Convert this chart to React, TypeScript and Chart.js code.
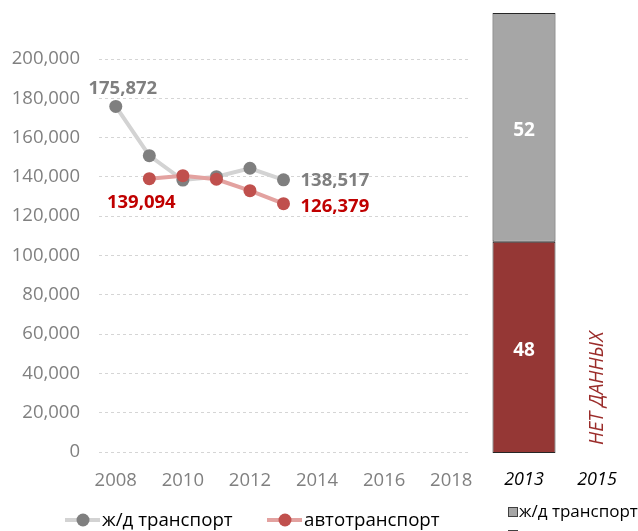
import React, { useEffect, useRef } from "react";
import { Chart, registerables } from "chart.js";
Chart.register(...registerables);

const FONT = "'Open Sans', 'Noto Sans', 'DejaVu Sans', sans-serif";

// ---- data: line chart ----
const lineYears = [2008, 2009, 2010, 2011, 2012, 2013];
const railFreight = [175872, 150800, 138400, 140100, 144400, 138517];
const roadFreight = [null, 139094, 140600, 138800, 133000, 126379];
const xTickYears = [2008, 2010, 2012, 2014, 2016, 2018];
const yTickValues = [0, 20000, 40000, 60000, 80000, 100000, 120000, 140000, 160000, 180000, 200000];
const seriesNames = ["ж/д транспорт", "автотранспорт"];

// ---- data: share bar chart ----
const shareYears = ["2013", "2015"];
const railShare = [52, null];
const roadShare = [48, null];
const noDataLabel = "НЕТ ДАННЫХ";

// label placements (which points carry a value label)
const pointLabels = [
  { ds: 0, idx: 0, align: "center", dx: 7, dy: -18 },
  { ds: 0, idx: 5, align: "left", dx: 17, dy: 1 },
  { ds: 1, idx: 1, align: "center", dx: -8, dy: 24 },
  { ds: 1, idx: 5, align: "left", dx: 17, dy: 3 },
];

const RAIL_MARK = "#7f7f7f";
const RAIL_LINE = "#d3d3d3";
const ROAD_MARK = "#c0504d";
const ROAD_LINE = "#e3a2a0";
const RAIL_LABEL = "#7f7f7f";
const ROAD_LABEL = "#c00000";
const BAR_GRAY = "#a6a6a6";
const BAR_RED = "#953735";

const fmt = (v: number) => v.toLocaleString("en-US");

function LineChart() {
  const ref = useRef<HTMLCanvasElement>(null);
  useEffect(() => {
    const labelPlugin = {
      id: "pointLabels",
      afterDatasetsDraw(chart: any) {
        const ctx = chart.ctx;
        ctx.save();
        ctx.font = `bold 18.5px ${FONT}`;
        ctx.textBaseline = "middle";
        for (const p of pointLabels) {
          const meta = chart.getDatasetMeta(p.ds);
          const el = meta.data[p.idx];
          const pt = chart.data.datasets[p.ds].data[p.idx];
          if (!el || !pt || pt.y === null) continue;
          ctx.fillStyle = p.ds === 0 ? RAIL_LABEL : ROAD_LABEL;
          ctx.textAlign = p.align;
          ctx.fillText(fmt(pt.y), el.x + p.dx, el.y + p.dy);
        }
        ctx.restore();
      },
    };
    const legendPlugin = {
      id: "lineLegend",
      afterDraw(chart: any) {
        const ctx = chart.ctx;
        ctx.save();
        ctx.font = `18.7px ${FONT}`;
        ctx.textBaseline = "middle";
        ctx.textAlign = "left";
        const y = 520;
        const items = [
          { x: 65, line: RAIL_LINE, mark: RAIL_MARK, text: seriesNames[0] },
          { x: 267, line: ROAD_LINE, mark: ROAD_MARK, text: seriesNames[1] },
        ];
        for (const it of items) {
          ctx.strokeStyle = it.line;
          ctx.lineWidth = 4;
          ctx.beginPath();
          ctx.moveTo(it.x, y);
          ctx.lineTo(it.x + 35, y);
          ctx.stroke();
          ctx.fillStyle = it.mark;
          ctx.beginPath();
          ctx.arc(it.x + 18, y, 6.5, 0, Math.PI * 2);
          ctx.fill();
          ctx.fillStyle = "#000";
          ctx.fillText(it.text, it.x + 37, y + 1);
        }
        ctx.restore();
      },
    };
    const chart = new Chart(ref.current!, {
      type: "line",
      data: {
        datasets: [
          {
            label: seriesNames[0],
            data: lineYears.map((x, i) => ({ x, y: railFreight[i] })),
            borderColor: RAIL_LINE,
            borderWidth: 4,
            pointRadius: 6.5,
            pointBackgroundColor: RAIL_MARK,
            pointBorderWidth: 0,
            tension: 0,
            order: 2,
          },
          {
            label: seriesNames[1],
            data: lineYears.map((x, i) => ({ x, y: roadFreight[i] })),
            borderColor: ROAD_LINE,
            borderWidth: 4,
            pointRadius: 6.5,
            pointBackgroundColor: ROAD_MARK,
            pointBorderWidth: 0,
            tension: 0,
            order: 1,
          },
        ],
      } as any,
      options: {
        responsive: false,
        animation: false,
        layout: { padding: { left: 0, top: 59, right: 12, bottom: 0 } },
        plugins: { legend: { display: false }, tooltip: { enabled: false } },
        scales: {
          x: {
            type: "linear",
            min: 2007.5,
            max: 2018.5,
            afterBuildTicks: (s: any) => {
              s.ticks = xTickYears.map((v) => ({ value: v }));
            },
            afterFit: (s: any) => {
              s.height = 79;
              s.paddingLeft = 0;
              s.paddingRight = 0;
            },
            grid: { display: false, drawTicks: false },
            border: { display: false },
            ticks: {
              color: "#808080",
              font: { family: FONT, size: 18.5 },
              padding: 18,
              maxRotation: 0,
              callback: (v: any) => String(v),
            },
          },
          y: {
            min: 0,
            max: 200000,
            afterBuildTicks: (s: any) => {
              s.ticks = yTickValues.map((v) => ({ value: v }));
            },
            afterFit: (s: any) => {
              s.width = 99;
            },
            grid: { color: "#d5d5d5", drawTicks: false, lineWidth: 1 },
            border: { display: false, dash: [3, 3] },
            ticks: {
              color: "#808080",
              font: { family: FONT, size: 18.5 },
              padding: 19,
              callback: (v: any) => fmt(Number(v)),
            },
          },
        },
      } as any,
      plugins: [labelPlugin, legendPlugin],
    });
    return () => chart.destroy();
  }, []);
  return (
    <canvas
      ref={ref}
      width={480}
      height={531}
      style={{ position: "absolute", left: 0, top: 0, width: 480, height: 531 }}
    />
  );
}

function ShareChart() {
  const ref = useRef<HTMLCanvasElement>(null);
  useEffect(() => {
    const barPlugin = {
      id: "barLabels",
      afterDatasetsDraw(chart: any) {
        const ctx = chart.ctx;
        ctx.save();
        ctx.textBaseline = "middle";
        ctx.textAlign = "center";
        ctx.font = `bold 19px ${FONT}`;
        ctx.fillStyle = "#ffffff";
        chart.data.datasets.forEach((ds: any, di: number) => {
          const meta = chart.getDatasetMeta(di);
          meta.data.forEach((el: any, i: number) => {
            const v = ds.data[i];
            if (v === null || v === undefined) return;
            ctx.fillText(String(v), el.x, (el.y + el.base) / 2 + 3);
          });
        });
        const xs = chart.scales.x;
        const yBottom = chart.chartArea.bottom;
        shareYears.forEach((_, i) => {
          const empty = chart.data.datasets.every(
            (ds: any) => ds.data[i] === null || ds.data[i] === undefined
          );
          if (!empty) return;
          const x = xs.getPixelForValue(i);
          ctx.save();
          ctx.translate(x, yBottom - 8);
          ctx.rotate(-Math.PI / 2);
          ctx.font = `italic 19.5px ${FONT}`;
          ctx.fillStyle = "#9b2d2b";
          ctx.textAlign = "left";
          ctx.textBaseline = "middle";
          ctx.fillText(noDataLabel, 0, 0);
          ctx.restore();
        });
        ctx.restore();
      },
      afterDraw(chart: any) {
        const ctx = chart.ctx;
        ctx.save();
        ctx.font = `17px ${FONT}`;
        ctx.textBaseline = "middle";
        ctx.textAlign = "left";
        const items = [
          { color: BAR_GRAY, text: seriesNames[0], y: 512 },
          { color: BAR_RED, text: seriesNames[1], y: 535 },
        ];
        for (const it of items) {
          ctx.fillStyle = it.color;
          ctx.fillRect(28.5, it.y - 4.5, 9, 9);
          ctx.strokeStyle = "#404040";
          ctx.lineWidth = 1;
          ctx.strokeRect(28.5, it.y - 4.5, 9, 9);
          ctx.fillStyle = "#000";
          ctx.fillText(it.text, 39, it.y);
        }
        ctx.restore();
      },
    };
    const chart = new Chart(ref.current!, {
      type: "bar",
      data: {
        labels: shareYears,
        datasets: [
          {
            label: seriesNames[1],
            data: roadShare,
            backgroundColor: BAR_RED,
            borderColor: "#262626",
            borderWidth: 1,
            borderSkipped: false,
            barPercentage: 0.863,
            categoryPercentage: 1,
          },
          {
            label: seriesNames[0],
            data: railShare,
            backgroundColor: BAR_GRAY,
            borderColor: "#262626",
            borderWidth: 1,
            borderSkipped: false,
            barPercentage: 0.863,
            categoryPercentage: 1,
          },
        ],
      } as any,
      options: {
        responsive: false,
        animation: false,
        layout: { padding: { left: 7.5, right: 4.5, top: 13, bottom: 0 } },
        plugins: { legend: { display: false }, tooltip: { enabled: false } },
        scales: {
          x: {
            stacked: true,
            afterFit: (s: any) => {
              s.height = 78;
            },
            grid: { display: false, drawTicks: false },
            border: { display: false },
            ticks: {
              color: "#000",
              font: { family: FONT, size: 18, style: "italic" },
              padding: 16,
              maxRotation: 0,
            },
          },
          y: { stacked: true, min: 0, max: 100, display: false },
        },
      } as any,
      plugins: [barPlugin],
    });
    return () => chart.destroy();
  }, []);
  return (
    <canvas
      ref={ref}
      width={158}
      height={531}
      style={{ position: "absolute", left: 480, top: 0, width: 158, height: 531 }}
    />
  );
}

export default function App() {
  return (
    <div
      style={{
        position: "absolute",
        left: 0,
        top: 0,
        width: 638,
        height: 531,
        background: "#fff",
        overflow: "hidden",
      }}
    >
      <LineChart />
      <ShareChart />
    </div>
  );
}
